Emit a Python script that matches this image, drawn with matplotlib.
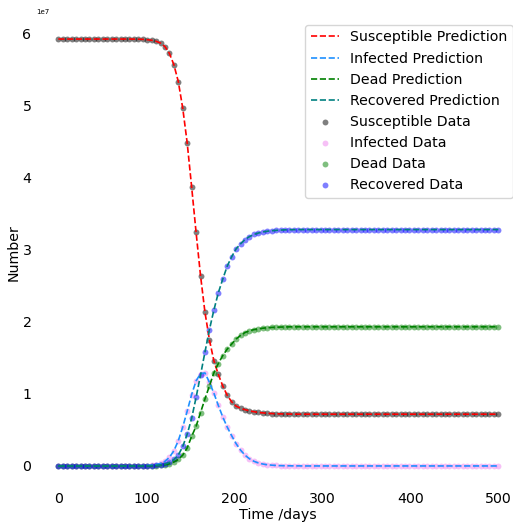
import numpy as np
import matplotlib
matplotlib.use("Agg")
import matplotlib.pyplot as plt

# Time grid of the SIRD simulation (days)
days = np.linspace(0, 500, 100)
SCALE = 1e7  # values below are given in units of 1e7 people

susceptible = (
    [5.92] * 17
    + [5.919, 5.918, 5.916, 5.911, 5.903, 5.889, 5.864, 5.815, 5.72, 5.565,
       5.33, 4.96, 4.48, 3.87, 3.24, 2.64, 2.13, 1.75, 1.46, 1.27,
       1.11, 0.98, 0.89, 0.83, 0.80, 0.78, 0.765, 0.752, 0.743, 0.736,
       0.731, 0.727, 0.724, 0.722, 0.721, 0.720, 0.719]
    + [0.718] * 46
)
infected = (
    [0.0] * 17
    + [0.001, 0.002, 0.003, 0.006, 0.011, 0.02, 0.035, 0.065, 0.12, 0.21,
       0.35, 0.54, 0.76, 0.99, 1.18, 1.28, 1.29, 1.16, 1.01, 0.84,
       0.68, 0.54, 0.42, 0.31, 0.22, 0.15, 0.10, 0.065, 0.042, 0.027,
       0.017, 0.011, 0.007, 0.004, 0.003, 0.002, 0.001, 0.001]
    + [0.0] * 45
)
recovered = (
    [0.0] * 19
    + [0.001, 0.002, 0.004, 0.007, 0.013, 0.025, 0.05, 0.09, 0.15, 0.27,
       0.44, 0.66, 0.95, 1.26, 1.58, 1.89, 2.16, 2.40, 2.59, 2.77,
       2.90, 3.01, 3.08, 3.14, 3.18, 3.21, 3.23, 3.245, 3.255, 3.262,
       3.267, 3.271, 3.274, 3.276, 3.277]
    + [3.278] * 46
)
dead = (
    [0.0] * 20
    + [0.001, 0.002, 0.004, 0.008, 0.015, 0.03, 0.055, 0.09, 0.15, 0.25,
       0.41, 0.55, 0.74, 0.93, 1.11, 1.29, 1.42, 1.53, 1.62, 1.69,
       1.76, 1.81, 1.85, 1.875, 1.89, 1.902, 1.91, 1.917, 1.921, 1.924,
       1.926, 1.928, 1.929]
    + [1.93] * 47
)

xticks = [0, 100, 200, 300, 400, 500]
yticks = [0, 1, 2, 3, 4, 5, 6]

S = np.array(susceptible) * SCALE
I = np.array(infected) * SCALE
R = np.array(recovered) * SCALE
D = np.array(dead) * SCALE

FS = 10.2

fig = plt.figure(figsize=(5.13, 5.25), dpi=100)
ax = fig.add_axes([36.3 / 513, 37.7 / 525, 484 / 513, 469.6 / 525])

# Observed data as translucent dots
ms = 18
dots = [
    ax.scatter(days, S, s=ms, color="black", alpha=0.5, linewidths=0, label="Susceptible Data"),
    ax.scatter(days, I, s=ms, color="violet", alpha=0.5, linewidths=0, label="Infected Data"),
    ax.scatter(days, D, s=ms, color="green", alpha=0.5, linewidths=0, label="Dead Data"),
    ax.scatter(days, R, s=ms, color="blue", alpha=0.5, linewidths=0, label="Recovered Data"),
]

# Model predictions as dashed lines on top
lw = 1.2
lines = [
    ax.plot(days, S, "--", color="red", lw=lw, label="Susceptible Prediction")[0],
    ax.plot(days, I, "--", color="dodgerblue", lw=lw, label="Infected Prediction")[0],
    ax.plot(days, D, "--", color="green", lw=lw, label="Dead Prediction")[0],
    ax.plot(days, R, "--", color="teal", lw=lw, label="Recovered Prediction")[0],
]

ax.set_xlim(-25, 525)
ax.set_ylim(-0.296 * SCALE, 6.216 * SCALE)
ax.set_xticks(xticks)
ax.set_yticks([v * SCALE for v in yticks])

for side in ax.spines.values():
    side.set_visible(False)
ax.tick_params(axis="both", length=0, labelsize=FS, pad=3.5)
ax.yaxis.get_offset_text().set_fontsize(5)

ax.set_xlabel("Time /days", fontsize=FS, labelpad=1)
ax.set_ylabel("Number", fontsize=FS, labelpad=1)

handles = lines + dots
ax.legend(handles=handles, labels=[h.get_label() for h in handles],
          loc="upper right", fontsize=FS)

fig.savefig("out.png", dpi=100)
